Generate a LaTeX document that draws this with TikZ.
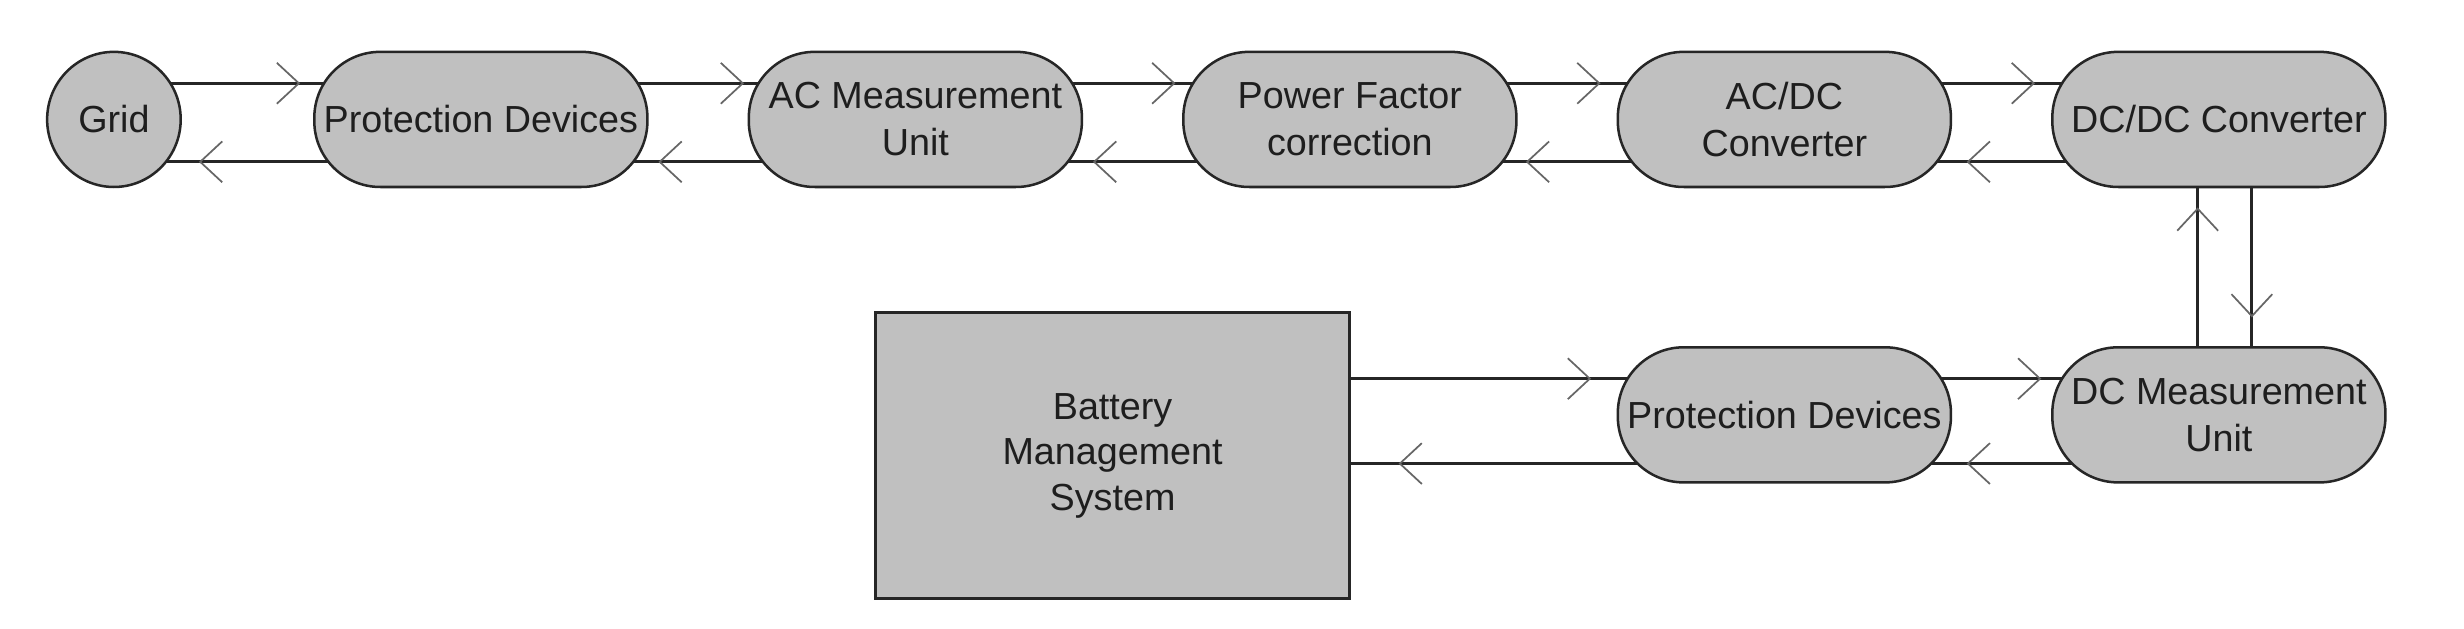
\documentclass[tikz,border=0pt]{standalone}
\usepackage{fontspec}
\setmainfont{Liberation Sans}
\usetikzlibrary{arrows.meta,decorations.markings,backgrounds,shapes.geometric}
\definecolor{boxfill}{HTML}{C0C0C0}
\definecolor{edge}{HTML}{262626}
\definecolor{txt}{HTML}{1E1E1E}
\begin{document}
\begin{tikzpicture}[x=0.5pt,y=-0.5pt,
  chev/.tip={Straight Barb[length=7pt,width=13pt,line width=0.55pt,color=black!60]},
  blk/.style={draw=edge, line width=0.8pt, fill=boxfill, minimum width=106pt,
    minimum height=43pt, rounded corners=21pt, inner sep=0pt, outer sep=0pt,
    align=center, font=\fontsize{12pt}{15pt}\selectfont, text=txt},
  gridnode/.style={ellipse, draw=edge, line width=0.8pt, fill=boxfill,
    minimum width=42.5pt, minimum height=43pt, inner sep=0pt, outer sep=0pt,
    font=\fontsize{12pt}{15pt}\selectfont, text=txt},
  bmsnode/.style={rectangle, draw=edge, line width=0.9pt, fill=boxfill,
    minimum width=151pt, minimum height=91pt, inner sep=0pt, outer sep=0pt,
    align=center, font=\fontsize{12pt}{14.5pt}\selectfont, text=txt},
  conn/.style={draw=black!85, line width=0.9pt},
  tipd/.style={postaction={decorate}, decoration={markings,
    mark=at position -#1 with {\arrow{chev}}}},
]
\useasboundingbox (0,0) rectangle (1568,400);

% nodes
\node[gridnode] (grid) at (72.5,76) {Grid};
\node[blk] (pd1) at (306,76) {Protection Devices};
\node[blk] (acm) at (582.5,76) {AC Measurement\\Unit};
\node[blk] (pfc) at (859,76) {Power Factor\\correction};
\node[blk] (acdc) at (1135.5,76) {AC/DC\\Converter};
\node[blk] (dcdc) at (1412,76) {DC/DC Converter};
\node[blk] (pd2) at (1135.5,264) {Protection Devices};
\node[blk] (dcm) at (1412,264) {DC Measurement\\Unit};
\node[bmsnode] (bms) at (708,290) {Battery\\Management\\System};

\begin{pgfonlayer}{background}
\fill[white] (0,0) rectangle (1568,400);
% top row, forward (upper) connectors
\draw[conn,tipd=8pt] ([shift={(-7,-23)}]grid.east) -- ([shift={(7,-23)}]pd1.west);
\draw[conn,tipd=5pt] ([shift={(-7,-23)}]pd1.east) -- ([shift={(7,-23)}]acm.west);
\draw[conn,tipd=6pt] ([shift={(-7,-23)}]acm.east) -- ([shift={(7,-23)}]pfc.west);
\draw[conn,tipd=9pt] ([shift={(-7,-23)}]pfc.east) -- ([shift={(7,-23)}]acdc.west);
\draw[conn,tipd=9pt] ([shift={(-7,-23)}]acdc.east) -- ([shift={(7,-23)}]dcdc.west);
% top row, backward (lower) connectors
\draw[conn,tipd=10.5pt] ([shift={(9.5,27)}]pd1.west) -- ([shift={(-9.4,27)}]grid.east);
\draw[conn,tipd=8.25pt] ([shift={(9.5,27)}]acm.west) -- ([shift={(-9.5,27)}]pd1.east);
\draw[conn,tipd=8.25pt] ([shift={(9.5,27)}]pfc.west) -- ([shift={(-9.5,27)}]acm.east);
\draw[conn,tipd=7.75pt] ([shift={(9.5,27)}]acdc.west) -- ([shift={(-9.5,27)}]pfc.east);
\draw[conn,tipd=9.75pt] ([shift={(9.5,27)}]dcdc.west) -- ([shift={(-9.5,27)}]acdc.east);
% vertical connectors
\draw[conn,tipd=9.5pt] ([shift={(21,0)}]dcdc.south) -- ([shift={(21,0)}]dcm.north);
\draw[conn,tipd=6.5pt] ([shift={(-13.5,0)}]dcm.north) -- ([shift={(-13.5,0)}]dcdc.south);
% bottom row
\draw[conn,tipd=7pt] ([shift={(-7,-23)}]pd2.east) -- ([shift={(7,-23)}]dcm.west);
\draw[conn,tipd=11.5pt] ([shift={(13,31)}]dcm.west) -- ([shift={(-13,31)}]pd2.east);
\draw[conn,tipd=12pt] ([shift={(0,-49)}]bms.east) -- ([shift={(7,-23)}]pd2.west);
\draw[conn,tipd=15.5pt] ([shift={(13,31)}]pd2.west) -- ([shift={(0,5)}]bms.east);
\end{pgfonlayer}
\end{tikzpicture}
\end{document}
